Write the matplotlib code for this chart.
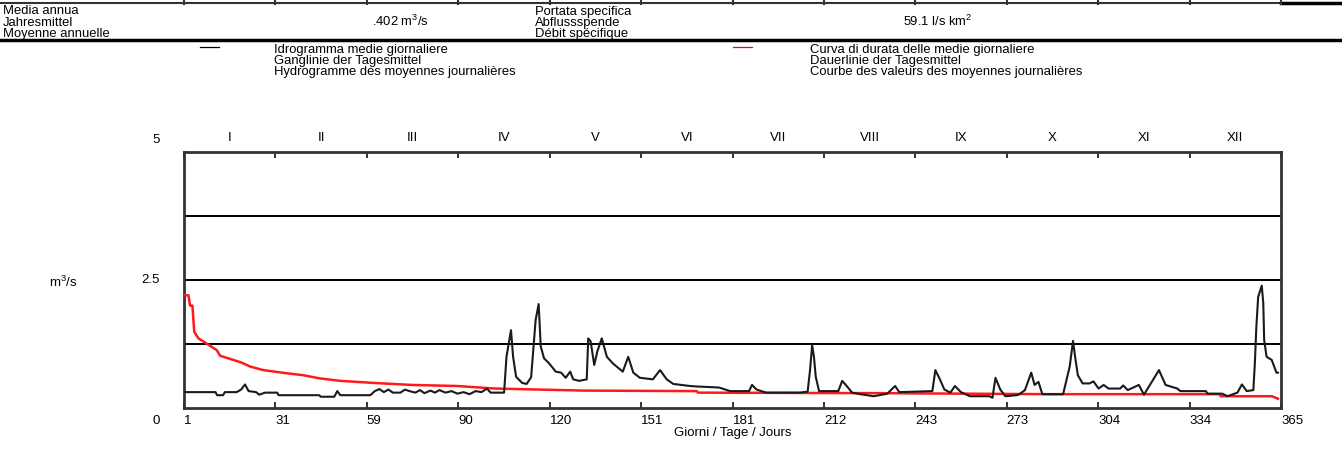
import numpy as np
import matplotlib
matplotlib.use('Agg')
import matplotlib.pyplot as plt
import matplotlib.transforms as mtransforms
from matplotlib.lines import Line2D

plt.rcParams['font.family'] = ['Liberation Sans', 'DejaVu Sans']
plt.rcParams['mathtext.fontset'] = 'custom'
plt.rcParams['mathtext.rm'] = 'Liberation Sans'
plt.rcParams['mathtext.it'] = 'Liberation Sans:italic'
plt.rcParams['font.size'] = 9.5

W, H = 1342, 461
HDR = 9.4  # header font size

# --- data -------------------------------------------------------------
day_labels = ['1', '31', '59', '90', '120', '151', '181', '212', '243',
              '273', '304', '334', '365']
month_labels = ['I', 'II', 'III', 'IV', 'V', 'VI', 'VII', 'VIII', 'IX',
                'X', 'XI', 'XII']
y_labels = ['0', '2.5', '5']
y_label_vals = [0, 2.5, 5]
grid_levels = [1.25, 2.5, 3.75]

# daily mean hydrograph (black)
hydro_day = [0, 10.5, 11, 13, 13.6, 17.5, 19, 20.3, 21.5, 24, 25, 27, 31,
             31.5, 45, 45.5, 50, 51, 52, 62, 63.5, 65, 66.5, 68, 69.5, 72,
             73.5, 75, 77, 78.5, 80, 82, 83.5, 85, 87, 89, 91, 93, 95, 97,
             99, 100.8, 102, 106.5, 107.3, 108.8, 109.5, 110.5, 112.5, 114,
             115.5, 116.3, 117, 118, 118.7, 119.8, 121.5, 123.7, 125.5, 127,
             128.5, 129.5, 131.5, 134, 134.5, 135.3, 136.5, 137.5, 139,
             140.7, 142.7, 146, 147.8, 149.5, 151.7, 156, 158.4, 160.6,
             162.8, 168.3, 170.6, 178, 181.7, 188, 189, 190.5, 193.7, 205,
             207.5, 208.3, 209, 209.6, 210.2, 211.3, 217.7, 219, 220.5,
             222.3, 225, 229.5, 234, 236.6, 238, 249, 250, 251.5, 253, 255,
             256.5, 258.5, 261.5, 268, 269, 270, 271.6, 273.3, 277, 278,
             279.8, 281.9, 283, 284.3, 285.6, 292.5, 294.7, 295.8, 296.5,
             297.4, 299, 301.3, 302.6, 304.3, 306, 307.6, 311.5, 312.5, 314,
             317.7, 319.4, 324.4, 326.6, 330.5, 331.5, 340, 340.6, 345.5,
             347.2, 350.5, 352, 353.6, 355.8, 356.3, 356.8, 357.4, 358.6,
             359.1, 359.4, 360.2, 361.9, 363.5, 364]
hydro_q = [0.31, 0.31, 0.25, 0.25, 0.31, 0.31, 0.36, 0.46, 0.33, 0.31, 0.26,
           0.30, 0.30, 0.25, 0.25, 0.22, 0.22, 0.33, 0.25, 0.25, 0.33, 0.37,
           0.31, 0.36, 0.30, 0.30, 0.36, 0.33, 0.30, 0.35, 0.29, 0.34, 0.30,
           0.35, 0.30, 0.33, 0.28, 0.31, 0.27, 0.33, 0.31, 0.38, 0.30, 0.30,
           1.00, 1.52, 1.00, 0.61, 0.49, 0.47, 0.60, 1.20, 1.72, 2.03, 1.20,
           0.97, 0.87, 0.71, 0.69, 0.59, 0.71, 0.56, 0.53, 0.56, 1.36, 1.30,
           0.84, 1.10, 1.36, 1.00, 0.87, 0.71, 1.00, 0.69, 0.59, 0.56, 0.74,
           0.56, 0.47, 0.43, 0.42, 0.40, 0.33, 0.33, 0.45, 0.36, 0.30, 0.30,
           0.32, 0.74, 1.23, 1.00, 0.61, 0.33, 0.33, 0.53, 0.43, 0.30, 0.27,
           0.23, 0.28, 0.43, 0.31, 0.33, 0.74, 0.56, 0.36, 0.30, 0.43, 0.31,
           0.23, 0.23, 0.20, 0.59, 0.36, 0.23, 0.25, 0.27, 0.35, 0.69, 0.45,
           0.51, 0.27, 0.27, 0.81, 1.31, 1.00, 0.64, 0.48, 0.48, 0.52, 0.38,
           0.45, 0.38, 0.38, 0.44, 0.35, 0.45, 0.26, 0.74, 0.45, 0.38, 0.33,
           0.33, 0.28, 0.28, 0.23, 0.30, 0.46, 0.33, 0.35, 0.87, 1.59, 2.17,
           2.39, 2.05, 1.33, 1.00, 0.94, 0.69, 0.69]

# duration curve of daily means (red)
dur_day = [0, 1.5, 2, 2.8, 3.1, 3.4, 4.8, 7.5, 10.9, 12, 15.3, 19, 22, 26.4,
           34, 39.7, 45, 52, 63, 76, 90.7, 103.5, 133, 170.6, 171, 230, 288,
           344.6, 345, 362, 364]
dur_q = [2.20, 2.20, 2.00, 2.00, 1.75, 1.49, 1.36, 1.26, 1.13, 1.02, 0.96,
         0.89, 0.81, 0.74, 0.68, 0.64, 0.58, 0.53, 0.49, 0.45, 0.43, 0.38,
         0.34, 0.33, 0.30, 0.29, 0.27, 0.27, 0.23, 0.23, 0.18]


def px(x, y):
    return x / W, 1 - y / H


fig = plt.figure(figsize=(W / 100, H / 100), dpi=100)
ax = fig.add_axes([184 / W, 1 - 408 / H, 1097 / W, 256 / H])

ax.plot(dur_day, dur_q, color='#ff1a1a', lw=1.8, zorder=3)
ax.plot(hydro_day, hydro_q, color='#1a1a1a', lw=1.5, zorder=4)
for g in grid_levels:
    ax.axhline(g, color='black', lw=1.4, zorder=2)

ax.set_xlim(0, 365)
ax.set_ylim(0, 5)
edges = np.linspace(0, 365, len(day_labels))
ax.set_xticks(edges)
ax.set_xticklabels(day_labels, ha='left')
ax.tick_params(axis='x', direction='in', length=4, width=1.3, top=True,
               bottom=True, pad=5, colors='#222222', labelcolor='black')
ax.set_yticks([])
for s in ax.spines.values():
    s.set_linewidth(2)
    s.set_color('#333333')

mids = (edges[:-1] + edges[1:]) / 2
sec = ax.secondary_xaxis('top')
sec.set_xticks(mids, labels=month_labels)
sec.tick_params(length=0, pad=6)
sec.spines['top'].set_visible(False)

offs = {0: -13, 2.5: 0, 5: 12}
for lab, v in zip(y_labels, y_label_vals):
    ax.annotate(lab, xy=(0, v), xycoords=('axes fraction', 'data'),
                xytext=(-24, offs[v]), textcoords='offset pixels',
                ha='right', va='center')

ax.set_xlabel('Giorni / Tage / Jours', labelpad=0)
fig.text(*px(63, 282), 'm$^3$/s', ha='center', va='center')

# --- header ------------------------------------------------------------
bt = mtransforms.blended_transform_factory(ax.transData, fig.transFigure)
fig.add_artist(Line2D([0, 1281 / W], [1 - 3 / H] * 2,
                      transform=fig.transFigure, color='#333333', lw=1.5))
fig.add_artist(Line2D([1281 / W, 1], [1 - 3 / H] * 2,
                      transform=fig.transFigure, color='black', lw=2.5))
for e in edges:
    fig.add_artist(Line2D([e, e], [1, 1 - 4 / H], transform=bt,
                          color='#333333', lw=1.5))
fig.add_artist(Line2D([0, 1], [1 - 40.5 / H] * 2, transform=fig.transFigure,
                      color='black', lw=2.5))

rows = [14.5, 26, 37]
for y, t in zip(rows, ['Media annua', 'Jahresmittel', 'Moyenne annuelle']):
    fig.text(*px(3, y), t, va='baseline', fontsize=HDR)
for y, t in zip(rows, ['Portata specifica', 'Abflussspende',
                       'Débit spécifique']):
    fig.text(*px(535, y), t, va='baseline', fontsize=HDR)
fig.text(*px(372, rows[1]), '.402 m$^3$/s', ha='left', va='baseline',
         fontsize=HDR)
fig.text(*px(903, rows[1]), '59.1 l/s km$^2$', ha='left', va='baseline',
         fontsize=HDR)

fig.add_artist(Line2D([200 / W, 219 / W], [1 - 47 / H] * 2,
                      transform=fig.transFigure, color='black', lw=0.9))
fig.add_artist(Line2D([733 / W, 752 / W], [1 - 47 / H] * 2,
                      transform=fig.transFigure, color='red', lw=0.9))
leg_rows = [52.5, 64, 75.5]
for y, t in zip(leg_rows, ['Idrogramma medie giornaliere',
                           'Ganglinie der Tagesmittel',
                           'Hydrogramme des moyennes journalières']):
    fig.text(*px(274, y), t, va='baseline', fontsize=HDR)
for y, t in zip(leg_rows, ['Curva di durata delle medie giornaliere',
                           'Dauerlinie der Tagesmittel',
                           'Courbe des valeurs des moyennes journalières']):
    fig.text(*px(810, y), t, va='baseline', fontsize=HDR)

fig.savefig('out.png', dpi=100)
